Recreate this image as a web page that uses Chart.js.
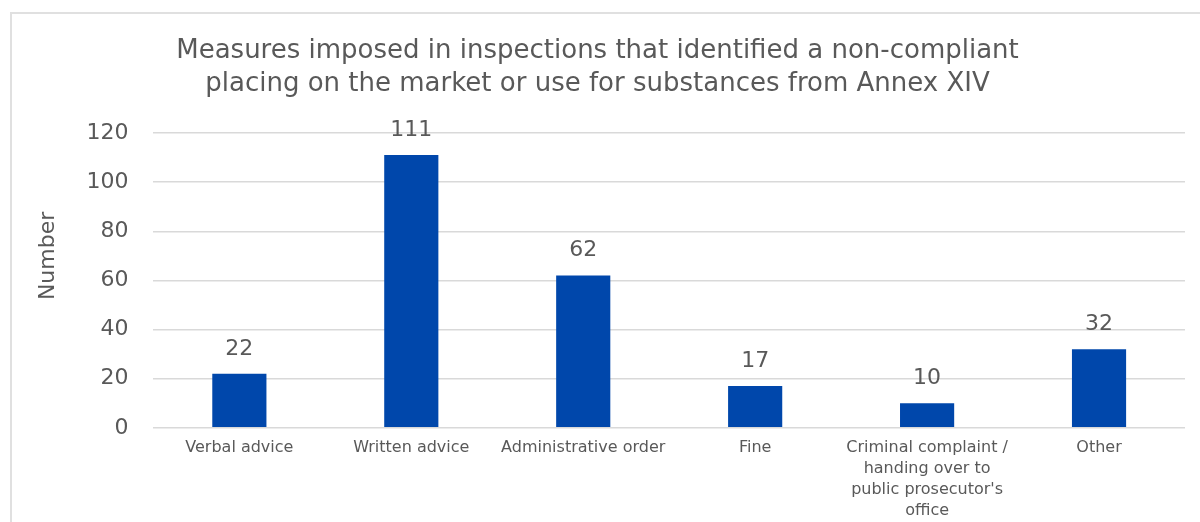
<!DOCTYPE html>
<html>
<head>
<meta charset="utf-8">
<script src="https://cdn.jsdelivr.net/npm/chart.js@4"></script>
<style>
  body { margin: 0; background: #fff; }
  #frame { position: absolute; left: 10px; top: 12px; width: 1200px; height: 520px; border: 2px solid #e0e0e0; box-sizing: border-box; }
  #wrap { position: absolute; left: 0; top: 0; width: 1200px; height: 522px; }
</style>
</head>
<body>
<div id="frame"></div>
<div id="wrap"><canvas id="barchart"></canvas></div>
<script>
const categories = [
    'Verbal advice',
    'Written advice',
    'Administrative order',
    'Fine',
    ['Criminal complaint /', 'handing over to', "public prosecutor's", 'office'],
    'Other'
];
const measureValues = [22, 111, 62, 17, 10, 32];
const yTicks = [0, 20, 40, 60, 80, 100, 120];

const textGrey = '#595959';
const fontFamily = '"DejaVu Sans", Verdana, sans-serif';

// draws the value above each bar
const valueLabels = {
    id: 'valueLabels',
    afterDatasetsDraw(chart) {
        const ctx = chart.ctx;
        const meta = chart.getDatasetMeta(0);
        ctx.save();
        ctx.font = '22px ' + fontFamily;
        ctx.fillStyle = textGrey;
        ctx.textAlign = 'center';
        ctx.textBaseline = 'alphabetic';
        meta.data.forEach((bar, i) => {
            ctx.fillText(measureValues[i], bar.x, bar.y - 19);
        });
        ctx.restore();
    }
};

const ctx = document.getElementById('barchart').getContext('2d');

const myBarChart = new Chart(ctx, {
    type: 'bar',
    data: {
        labels: categories,
        datasets: [{
            label: 'Number',
            data: measureValues,
            backgroundColor: '#0047AB',
            barPercentage: 0.315,
            categoryPercentage: 1
        }]
    },
    options: {
        responsive: true,
        maintainAspectRatio: false,
        animation: false,
        layout: {
            padding: { left: 10, right: 15, top: 0, bottom: -9 }
        },
        plugins: {
            legend: { display: false },
            tooltip: { enabled: false },
            title: {
                display: true,
                text: ['Measures imposed in inspections that identified a non-compliant',
                       'placing on the market or use for substances from Annex XIV'],
                color: textGrey,
                font: { family: fontFamily, size: 26, weight: 'normal', lineHeight: 1.25 },
                padding: { top: 35, bottom: 33 }
            }
        },
        scales: {
            x: {
                grid: { display: false, drawTicks: false },
                border: { display: false },
                ticks: {
                    color: textGrey,
                    font: { family: fontFamily, size: 16, lineHeight: 1.3 },
                    maxRotation: 0,
                    autoSkip: false,
                    padding: 10
                }
            },
            y: {
                min: 0,
                max: 120,
                afterBuildTicks(axis) {
                    axis.ticks = yTicks.map(v => ({ value: v }));
                },
                grid: { color: '#d9d9d9', lineWidth: 1.5, drawTicks: false },
                border: { display: false },
                ticks: {
                    color: textGrey,
                    font: { family: fontFamily, size: 22 },
                    padding: 25
                },
                title: {
                    display: true,
                    // leading spaces nudge the word up a bit, like the original
                    text: '\u00a0\u00a0\u00a0\u00a0\u00a0\u00a0\u00a0Number',
                    color: textGrey,
                    font: { family: fontFamily, size: 22, weight: 'normal', lineHeight: 1.2 },
                    padding: { top: 25, bottom: 0 }
                }
            }
        }
    },
    plugins: [valueLabels]
});
</script>
</body>
</html>
